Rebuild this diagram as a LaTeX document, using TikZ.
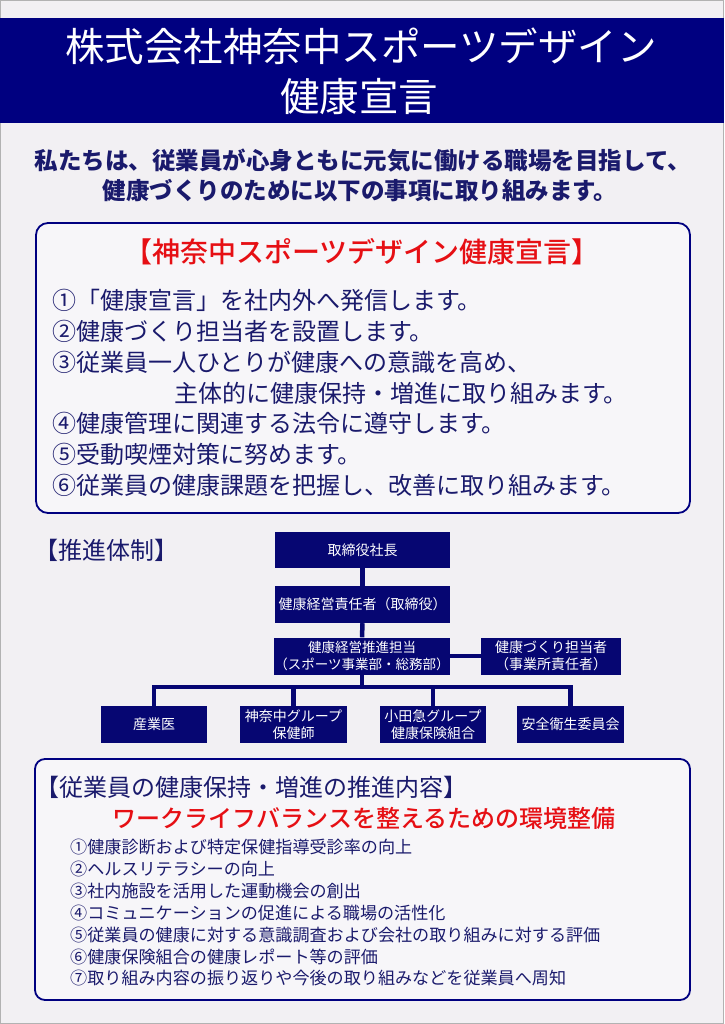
\documentclass[tikz,border=0pt]{standalone}
\usepackage{fontspec}
\setmainfont{Noto Sans CJK JP}
\newfontfamily\jpmed{Noto Sans CJK JP Medium}
\definecolor{navy}{HTML}{000080}
\definecolor{orgnavy}{HTML}{060672}
\definecolor{ink}{HTML}{1A1A6C}
\definecolor{redtxt}{HTML}{E60F14}
\definecolor{bgc}{HTML}{F2F0F3}
\definecolor{panelbg}{HTML}{F7F6F9}
\begin{document}
\begin{tikzpicture}[x=1pt,y=-1pt,
  txt/.style={inner sep=0pt, text=ink},
  orgbox/.style={fill=orgnavy, text=white, inner sep=0pt, align=center,
     font=\fontsize{14}{17}\selectfont},
  conn/.style={draw=orgnavy, line width=4.5pt},
  panel/.style={draw=navy, line width=1.8pt, fill=panelbg, rounded corners=12pt}]
\useasboundingbox (0,0) rectangle (724,1024);
\fill[bgc] (0,0) rectangle (724,1024);
\draw[gray!60, line width=1pt] (0.5,0.5) rectangle (723.5,1023.5);
% title band
\fill[navy] (0,18) rectangle (724,123);
\node[inner sep=0pt, text=white, font=\fontsize{39.5}{46}\selectfont] (t1) at (361,46) {株式会社神奈中スポーツデザイン};
\node[inner sep=0pt, text=white, font=\fontsize{39.5}{46}\selectfont] (t2) at (359,97) {健康宣言};
% subtitle
\node[txt, font=\fontsize{23.5}{28}\bfseries\selectfont] (s1) at (363,161) {私たちは、従業員が心身ともに元気に働ける職場を目指して、};
\node[txt, font=\fontsize{23.5}{28}\bfseries\selectfont] (s2) at (360,191) {健康づくりのために以下の事項に取り組みます。};
% panel 1
\draw[panel] (36,223) rectangle (690,513);
\node[inner sep=0pt, text=redtxt, font=\jpmed\fontsize{28}{32}\selectfont] (h1) at (362,252) {【神奈中スポーツデザイン健康宣言】};
\begin{scope}[every node/.style={txt, anchor=west, font=\fontsize{24}{28}\selectfont}]
\node (d1) at (52,300) {①「健康宣言」を社内外へ発信します。};
\node (d2) at (52,331) {②健康づくり担当者を設置します。};
\node (d3) at (52,362) {③従業員一人ひとりが健康への意識を高め、};
\node (d3b) at (174,393) {主体的に健康保持・増進に取り組みます。};
\node (d4) at (52,423) {④健康管理に関連する法令に遵守します。};
\node (d5) at (52,454) {⑤受動喫煙対策に努めます。};
\node (d6) at (52,485) {⑥従業員の健康課題を把握し、改善に取り組みます。};
\end{scope}
% org chart
\node[txt, anchor=west, font=\fontsize{24}{28}\selectfont] (oh) at (34,550) {【推進体制】};
\node[orgbox, minimum width=175pt, minimum height=36pt] (ceo) at (362.5,550) {取締役社長};
\node[orgbox, minimum width=175pt, minimum height=37pt] (mgr) at (362.5,604.5) {健康経営責任者（取締役）};
\node[orgbox, minimum width=174pt, minimum height=37pt, font=\fontsize{13.5}{16.5}\selectfont] (promo) at (362,656) {健康経営推進担当\\（スポーツ事業部・総務部）};
\node[orgbox, minimum width=140pt, minimum height=37pt] (kz) at (551,656) {健康づくり担当者\\（事業所責任者）};
\node[orgbox, minimum width=106pt, minimum height=37pt] (b1) at (154,724.5) {産業医};
\node[orgbox, minimum width=107pt, minimum height=37pt] (b2) at (293.5,724.5) {神奈中グループ\\保健師};
\node[orgbox, minimum width=106pt, minimum height=37pt] (b3) at (433,724.5) {小田急グループ\\健康保険組合};
\node[orgbox, minimum width=107pt, minimum height=37pt] (b4) at (570.5,724.5) {安全衛生委員会};
\coordinate (bus) at (362,687);
\draw[conn] (ceo.south) -- (mgr.north);
\draw[conn] (mgr.south) -- (promo.north);
\draw[conn] (promo.east) -- (kz.west);
\draw[conn] (promo.south) -- (bus);
\draw[conn] (b1.north) |- (bus) -| (b4.north);
\draw[conn] (b2.north) -- (b2.north |- bus);
\draw[conn] (b3.north) -- (b3.north |- bus);
% panel 2
\draw[panel, rounded corners=10pt] (35,759) rectangle (690,1000);
\node[txt, anchor=west, font=\fontsize{24}{28}\selectfont] (h2) at (35,787) {【従業員の健康保持・増進の推進内容】};
\node[inner sep=0pt, text=redtxt, font=\jpmed\fontsize{24}{28}\selectfont] (r2) at (364,818) {ワークライフバランスを整えるための環境整備};
\begin{scope}[every node/.style={txt, anchor=west, font=\fontsize{17.1}{20}\selectfont}]
\node (e1) at (70,847) {①健康診断および特定保健指導受診率の向上};
\node (e2) at (70,869) {②ヘルスリテラシーの向上};
\node (e3) at (70,891) {③社内施設を活用した運動機会の創出};
\node (e4) at (70,913) {④コミュニケーションの促進による職場の活性化};
\node (e5) at (70,935) {⑤従業員の健康に対する意識調査および会社の取り組みに対する評価};
\node (e6) at (70,957) {⑥健康保険組合の健康レポート等の評価};
\node (e7) at (70,978) {⑦取り組み内容の振り返りや今後の取り組みなどを従業員へ周知};
\end{scope}
\end{tikzpicture}
\end{document}
